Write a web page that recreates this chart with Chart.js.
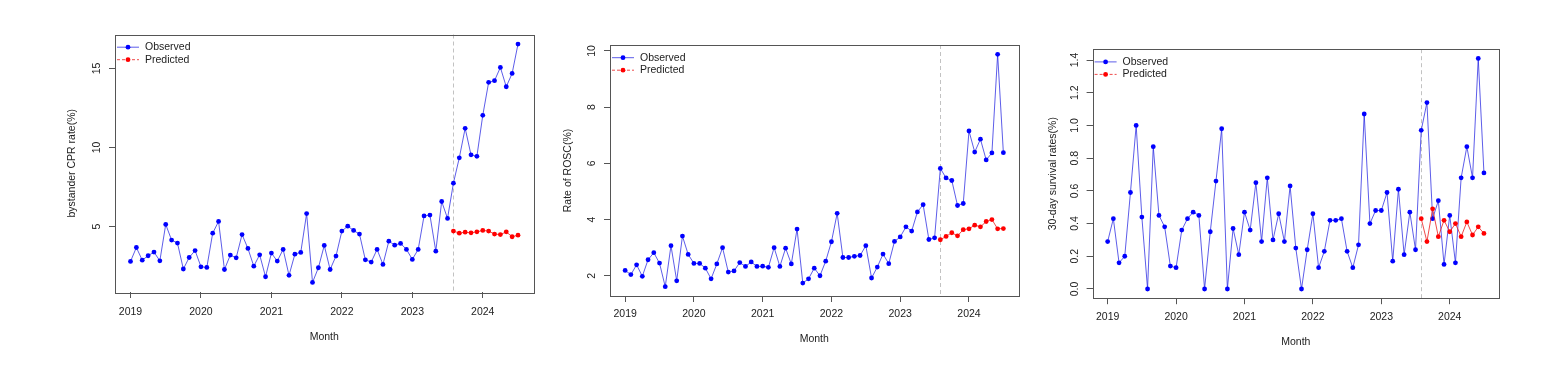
<!DOCTYPE html>
<html lang="en">
<head>
  <meta charset="UTF-8">
  <title>Observed vs predicted monthly rates</title>
  <script src="https://cdn.jsdelivr.net/npm/chart.js"></script>
  <style>
    body { margin: 0; background: #fff; }
    canvas { position: absolute; top: 0; }
  </style>
</head>
<body>

  <canvas id="cprChart" width="560" height="386" style="left:0px"></canvas>
  <canvas id="roscChart" width="485" height="386" style="left:560px"></canvas>
  <canvas id="survChart" width="519" height="386" style="left:1045px"></canvas>

  <script>
    // months Jan 2019 .. Jul 2024 (x = index into this list)
    const months = [
      '2019-01','2019-02','2019-03','2019-04','2019-05','2019-06','2019-07','2019-08','2019-09','2019-10','2019-11','2019-12',
      '2020-01','2020-02','2020-03','2020-04','2020-05','2020-06','2020-07','2020-08','2020-09','2020-10','2020-11','2020-12',
      '2021-01','2021-02','2021-03','2021-04','2021-05','2021-06','2021-07','2021-08','2021-09','2021-10','2021-11','2021-12',
      '2022-01','2022-02','2022-03','2022-04','2022-05','2022-06','2022-07','2022-08','2022-09','2022-10','2022-11','2022-12',
      '2023-01','2023-02','2023-03','2023-04','2023-05','2023-06','2023-07','2023-08','2023-09','2023-10','2023-11','2023-12',
      '2024-01','2024-02','2024-03','2024-04','2024-05','2024-06','2024-07'
    ];
    const xTickValues = [0, 12, 24, 36, 48, 60];
    const xTickLabels = ['2019', '2020', '2021', '2022', '2023', '2024'];
    const cutoffIndex = 55; // Aug 2023, start of the prediction period

    // bystander CPR rate (%)
    const cprObserved = [
      2.79, 3.67, 2.87, 3.15, 3.38, 2.83, 5.13, 4.14, 3.95, 2.31, 3.04, 3.48,
      2.45, 2.41, 4.58, 5.32, 2.28, 3.19, 3.02, 4.49, 3.61, 2.49, 3.21, 1.82,
      3.32, 2.81, 3.55, 1.91, 3.25, 3.36, 5.82, 1.46, 2.39, 3.80, 2.28, 3.13,
      4.71, 5.02, 4.75, 4.52, 2.89, 2.75, 3.55, 2.60, 4.07, 3.82, 3.93, 3.55,
      2.92, 3.55, 5.67, 5.72, 3.44, 6.58, 5.51, 7.74, 9.34, 11.21, 9.53, 9.44,
      12.03, 14.12, 14.22, 15.06, 13.84, 14.68, 16.54
    ];
    const cprPredicted = [4.71, 4.58, 4.64, 4.60, 4.66, 4.75, 4.71, 4.52, 4.49, 4.66, 4.35, 4.45];
    const cprTicks = [5, 10, 15];
    const cprTickLabels = ['5', '10', '15'];

    // rate of ROSC (%)
    const roscObserved = [
      2.19, 2.04, 2.39, 1.98, 2.57, 2.82, 2.45, 1.61, 3.07, 1.82, 3.41, 2.76,
      2.44, 2.44, 2.27, 1.89, 2.42, 3.00, 2.13, 2.17, 2.47, 2.33, 2.49, 2.33,
      2.34, 2.30, 3.00, 2.33, 2.98, 2.42, 3.66, 1.74, 1.89, 2.27, 2.00, 2.52,
      3.21, 4.22, 2.65, 2.65, 2.69, 2.72, 3.07, 1.92, 2.31, 2.77, 2.43, 3.22,
      3.38, 3.74, 3.59, 4.27, 4.53, 3.29, 3.35, 5.82, 5.48, 5.39, 4.50, 4.57,
      7.15, 6.40, 6.86, 6.12, 6.37, 9.88, 6.38
    ];
    const roscPredicted = [3.28, 3.40, 3.53, 3.42, 3.64, 3.67, 3.80, 3.74, 3.93, 4.00, 3.67, 3.68];
    const roscTicks = [2, 4, 6, 8, 10];
    const roscTickLabels = ['2', '4', '6', '8', '10'];

    // 30-day survival rate (%)
    const survObserved = [
      0.29, 0.43, 0.16, 0.20, 0.59, 1.00, 0.44, 0.00, 0.87, 0.45, 0.38, 0.14,
      0.13, 0.36, 0.43, 0.47, 0.45, 0.00, 0.35, 0.66, 0.98, 0.00, 0.37, 0.21,
      0.47, 0.36, 0.65, 0.29, 0.68, 0.30, 0.46, 0.29, 0.63, 0.25, 0.00, 0.24,
      0.46, 0.13, 0.23, 0.42, 0.42, 0.43, 0.23, 0.13, 0.27, 1.07, 0.40, 0.48,
      0.48, 0.59, 0.17, 0.61, 0.21, 0.47, 0.24, 0.97, 1.14, 0.43, 0.54, 0.15,
      0.45, 0.16, 0.68, 0.87, 0.68, 1.41, 0.71
    ];
    const survPredicted = [0.43, 0.29, 0.49, 0.32, 0.42, 0.35, 0.40, 0.32, 0.41, 0.33, 0.38, 0.34];
    const survTicks = [0, 0.2, 0.4, 0.6, 0.8, 1.0, 1.2, 1.4];
    const survTickLabels = ['0.0', '0.2', '0.4', '0.6', '0.8', '1.0', '1.2', '1.4'];

    const FONT_FAMILY = '"Liberation Sans", Arial, sans-serif';
    const FONT_SIZE = 10.5;
    const TEXT = '#222';
    const FRAME = '#555';
    const OBS_LINE = 'rgba(30, 30, 225, 0.72)';
    const OBS_DOT = '#0000ff';
    const PRED_LINE = 'rgba(235, 30, 30, 0.8)';
    const PRED_DOT = '#ff0000';

    // R style axis range: data range plus 4% each side
    function rRange(values) {
      const lo = Math.min(...values), hi = Math.max(...values);
      const pad = (hi - lo) * 0.04;
      return [lo - pad, hi + pad];
    }

    // box, dashed cut line, rotated y labels and legend
    const panelDecor = {
      id: 'panelDecor',
      beforeDatasetsDraw(chart, args, opts) {
        const { ctx, chartArea: a, scales: { x } } = chart;
        const px = Math.round(x.getPixelForValue(opts.cutoff)) + 0.5;
        ctx.save();
        ctx.strokeStyle = '#c2c2c2';
        ctx.lineWidth = 1;
        ctx.setLineDash([4, 3]);
        ctx.beginPath();
        ctx.moveTo(px, a.top);
        ctx.lineTo(px, a.bottom);
        ctx.stroke();
        ctx.restore();
      },
      afterDraw(chart, args, opts) {
        const { ctx, chartArea: a, scales: { y } } = chart;
        ctx.save();
        ctx.strokeStyle = FRAME;
        ctx.lineWidth = 1;
        ctx.strokeRect(Math.round(a.left) + 0.5, Math.round(a.top) + 0.5,
          Math.round(a.right - a.left), Math.round(a.bottom - a.top));

        ctx.fillStyle = TEXT;
        ctx.font = FONT_SIZE + 'px ' + FONT_FAMILY;
        ctx.textAlign = 'center';
        ctx.textBaseline = 'middle';
        y.ticks.forEach((t, i) => {
          ctx.save();
          ctx.translate(opts.yLabelX, y.getPixelForValue(t.value));
          ctx.rotate(-Math.PI / 2);
          ctx.fillText(opts.yLabels[i], 0, 0);
          ctx.restore();
        });

        const items = [
          { text: 'Observed', line: OBS_LINE, dot: OBS_DOT, dash: [] },
          { text: 'Predicted', line: PRED_LINE, dot: PRED_DOT, dash: [3, 2] }
        ];
        items.forEach((it, i) => {
          const ly = a.top + 12.7 + i * 12.5;
          ctx.strokeStyle = it.line;
          ctx.setLineDash(it.dash);
          ctx.beginPath();
          ctx.moveTo(a.left + 2, ly);
          ctx.lineTo(a.left + 24, ly);
          ctx.stroke();
          ctx.setLineDash([]);
          ctx.fillStyle = it.dot;
          ctx.beginPath();
          ctx.arc(a.left + 13, ly, 2.4, 0, Math.PI * 2);
          ctx.fill();
          ctx.fillStyle = TEXT;
          ctx.textAlign = 'left';
          ctx.fillText(it.text, a.left + 30, ly);
        });
        ctx.restore();
      }
    };

    function makePanel(id, g, observed, predicted, yTicks, yTickLabels, yTitle) {
      const ctx = document.getElementById(id).getContext('2d');
      const [yMin, yMax] = rRange(observed);
      const [xMin, xMax] = rRange(observed.map((v, i) => i));
      const font = { family: FONT_FAMILY, size: FONT_SIZE };
      return new Chart(ctx, {
        type: 'line',
        data: {
          datasets: [{
            label: 'Predicted',
            data: predicted.map((v, i) => ({ x: cutoffIndex + i, y: v })),
            borderColor: PRED_LINE,
            borderWidth: 1,
            pointBackgroundColor: PRED_DOT,
            pointBorderWidth: 0,
            pointRadius: 2.4,
            tension: 0,
            fill: false,
            order: 0
          }, {
            label: 'Observed',
            data: observed.map((v, i) => ({ x: i, y: v })),
            borderColor: OBS_LINE,
            borderWidth: 1,
            pointBackgroundColor: OBS_DOT,
            pointBorderWidth: 0,
            pointRadius: 2.4,
            tension: 0,
            fill: false,
            order: 1
          }]
        },
        options: {
          responsive: false,
          animation: false,
          devicePixelRatio: 1,
          layout: { padding: { left: 0, top: g.top, right: g.canvasW - (g.right - g.canvasLeft), bottom: 0 } },
          plugins: {
            legend: { display: false },
            tooltip: { enabled: false },
            panelDecor: { cutoff: cutoffIndex, yLabelX: g.yLabelX - g.canvasLeft, yLabels: yTickLabels }
          },
          scales: {
            x: {
              type: 'linear',
              min: xMin,
              max: xMax,
              afterBuildTicks: (s) => { s.ticks = xTickValues.map(v => ({ value: v })); },
              afterFit: (s) => { s.height = 386 - g.bottom; },
              ticks: {
                autoSkip: false,
                maxRotation: 0,
                padding: g.xTickPad,
                color: TEXT,
                font: font,
                callback: (value, index) => xTickLabels[index]
              },
              grid: { drawOnChartArea: false, drawTicks: true, tickLength: 6, color: FRAME },
              border: { display: false },
              title: { display: true, text: 'Month', color: TEXT, font: font, padding: { top: 0, bottom: g.xTitlePad } }
            },
            y: {
              type: 'linear',
              min: yMin,
              max: yMax,
              afterBuildTicks: (s) => { s.ticks = yTicks.map(v => ({ value: v })); },
              afterFit: (s) => { s.width = g.left - g.canvasLeft; },
              ticks: { display: false },
              grid: { drawOnChartArea: false, drawTicks: true, tickLength: 6, color: FRAME },
              border: { display: false },
              title: { display: true, text: yTitle, color: TEXT, font: font, padding: { top: g.yTitleX - g.canvasLeft - 6.3, bottom: 0 } }
            }
          }
        },
        plugins: [panelDecor]
      });
    }

    makePanel('cprChart',
      { canvasLeft: 0, canvasW: 560, left: 115, top: 34.5, right: 533.5, bottom: 292,
        yLabelX: 96.7, yTitleX: 72, xTickPad: 7.4, xTitlePad: 43 },
      cprObserved, cprPredicted, cprTicks, cprTickLabels, 'bystander CPR rate(%)');

    makePanel('roscChart',
      { canvasLeft: 560, canvasW: 485, left: 610, top: 45, right: 1018.5, bottom: 296,
        yLabelX: 592.2, yTitleX: 568, xTickPad: 5.7, xTitlePad: 40.7 },
      roscObserved, roscPredicted, roscTicks, roscTickLabels, 'Rate of ROSC(%)');

    makePanel('survChart',
      { canvasLeft: 1045, canvasW: 519, left: 1092.6, top: 49.2, right: 1499, bottom: 298.2,
        yLabelX: 1075, yTitleX: 1053.5, xTickPad: 6.2, xTitlePad: 38 },
      survObserved, survPredicted, survTicks, survTickLabels, '30-day survival rates(%)');
  </script>

</body>
</html>
